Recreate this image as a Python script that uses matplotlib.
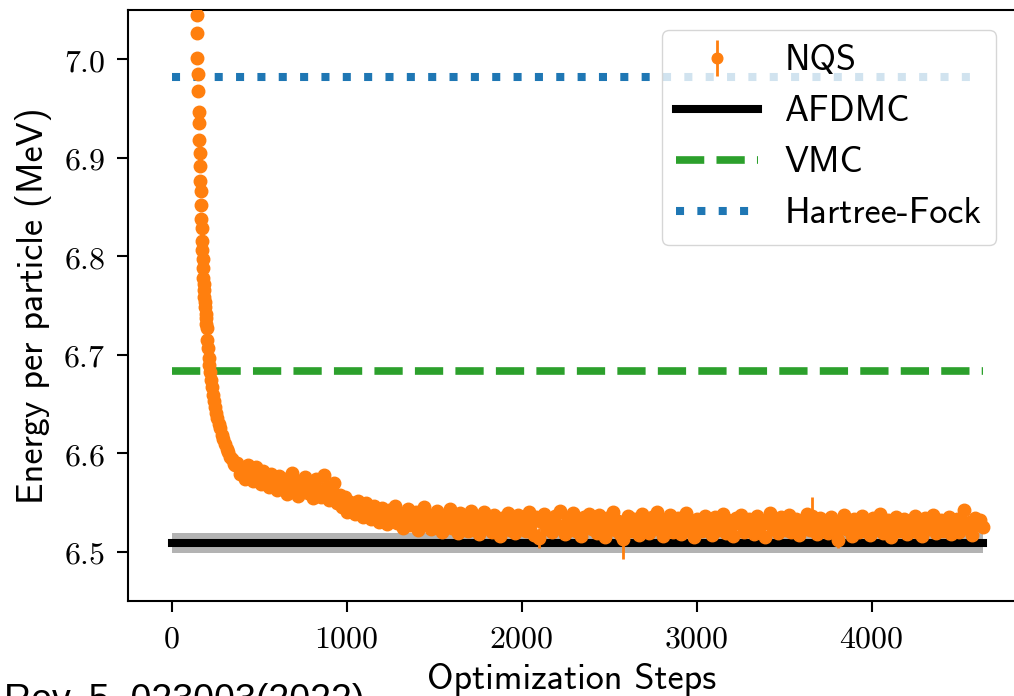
import numpy as np
import matplotlib
matplotlib.use("Agg")
import matplotlib.pyplot as plt
from matplotlib.ticker import FuncFormatter

# reference energies (MeV per particle)
afdmc_energy = 6.509
afdmc_err = 0.010
vmc_energy = 6.684
hf_energy = 6.982

# NQS optimisation, early (steep) part
steps_early = [0, 25, 50, 75, 100, 120, 130, 135,
               140, 142, 144, 146, 148, 150, 152, 154, 156, 158, 160, 162, 164,
               166, 168, 170, 172, 174, 176, 178, 180, 182, 184, 186, 188, 190,
               192, 194, 196, 198, 200, 204, 208, 212, 216, 220, 225, 230, 236,
               242, 248, 255, 262, 270, 278, 286, 295, 304, 314, 324, 334, 344,
               354, 364]
energy_early = [12.0, 10.5, 9.3, 8.5, 7.9, 7.45, 7.28, 7.17,
                7.090, 7.066, 7.045, 7.027, 7.001, 6.985, 6.968, 6.946, 6.935,
                6.918, 6.905, 6.892, 6.876, 6.866, 6.852, 6.838, 6.829, 6.816,
                6.806, 6.797, 6.788, 6.778, 6.772, 6.766, 6.759, 6.754, 6.748,
                6.741, 6.737, 6.731, 6.727, 6.715, 6.707, 6.697, 6.690, 6.683,
                6.674, 6.667, 6.659, 6.653, 6.647, 6.641, 6.636, 6.630, 6.626,
                6.619, 6.614, 6.609, 6.604, 6.601, 6.596, 6.594, 6.589, 6.588]

# NQS optimisation, every 15 steps from 375 on
steps_late = np.arange(375, 4636, 15)
energy_late = [
    6.590, 6.579, 6.584, 6.574, 6.588, 6.581, 6.572, 6.586, 6.577, 6.569, 6.582, 6.575, 6.566, 6.579, 6.571,
    6.563, 6.577, 6.568, 6.574, 6.559, 6.571, 6.580, 6.565, 6.557, 6.572, 6.566, 6.576, 6.560, 6.569, 6.555,
    6.574, 6.562, 6.556, 6.578, 6.566, 6.553, 6.561, 6.570, 6.549, 6.558, 6.545, 6.556, 6.540, 6.551, 6.547,
    6.538, 6.552, 6.543, 6.535, 6.549, 6.541, 6.533, 6.546, 6.538, 6.530, 6.544, 6.536, 6.528, 6.542, 6.535,
    6.546, 6.529, 6.538, 6.524, 6.535, 6.543, 6.527, 6.533, 6.540, 6.522, 6.531, 6.545, 6.528, 6.537, 6.523,
    6.534, 6.541, 6.526, 6.520, 6.537, 6.530, 6.543, 6.524, 6.533, 6.519, 6.539, 6.528, 6.535, 6.521, 6.541,
    6.527, 6.536, 6.518, 6.531, 6.540, 6.524, 6.533, 6.520, 6.537, 6.529, 6.516, 6.534, 6.526, 6.539, 6.522,
    6.531, 6.519, 6.537, 6.525, 6.533, 6.521, 6.540, 6.528, 6.517, 6.535, 6.514, 6.530, 6.538, 6.523, 6.532,
    6.520, 6.536, 6.527, 6.541, 6.524, 6.518, 6.533, 6.529, 6.539, 6.521, 6.530, 6.516, 6.535, 6.526, 6.538,
    6.523, 6.532, 6.519, 6.537, 6.528, 6.515, 6.534, 6.525, 6.540, 6.522, 6.531, 6.518, 6.513, 6.529, 6.536,
    6.521, 6.533, 6.526, 6.517, 6.538, 6.524, 6.531, 6.519, 6.535, 6.528, 6.540, 6.522, 6.516, 6.532, 6.527,
    6.537, 6.520, 6.529, 6.534, 6.518, 6.526, 6.539, 6.523, 6.531, 6.515, 6.533, 6.527, 6.521, 6.536, 6.524,
    6.530, 6.517, 6.535, 6.522, 6.528, 6.538, 6.519, 6.532, 6.525, 6.516, 6.534, 6.529, 6.537, 6.520, 6.527,
    6.533, 6.521, 6.518, 6.536, 6.526, 6.531, 6.515, 6.529, 6.539, 6.523, 6.530, 6.519, 6.535, 6.527, 6.522,
    6.537, 6.520, 6.528, 6.533, 6.517, 6.531, 6.524, 6.538, 6.522, 6.536, 6.529, 6.518, 6.534, 6.525, 6.531,
    6.519, 6.535, 6.526, 6.521, 6.512, 6.530, 6.537, 6.523, 6.528, 6.516, 6.533, 6.527, 6.520, 6.536, 6.524,
    6.530, 6.517, 6.534, 6.522, 6.529, 6.538, 6.519, 6.526, 6.532, 6.515, 6.528, 6.535, 6.521, 6.527, 6.533,
    6.518, 6.531, 6.525, 6.536, 6.520, 6.529, 6.516, 6.534, 6.523, 6.530, 6.537, 6.519, 6.527, 6.532, 6.521,
    6.528, 6.535, 6.518, 6.526, 6.533, 6.520, 6.531, 6.542, 6.524, 6.530, 6.517, 6.534, 6.527, 6.532, 6.525]

# statistical errors of the NQS estimate; a few noisy steps have larger bars
base_err = 0.005
large_err = {2100: 0.010, 2580: 0.020, 3660: 0.020, 3810: 0.008}

steps = np.concatenate([steps_early, steps_late])
energy = np.concatenate([energy_early, energy_late])
err = np.array([large_err.get(int(s), base_err) for s in steps])

plt.rcParams['mathtext.fontset'] = 'cm'
label_font = dict(family='cmss10', size=26)

fig = plt.figure(figsize=(10.14, 6.96), dpi=100)
ax = fig.add_axes([0.1259, 0.1365, 0.8761, 0.8491])

x_ref = [steps[0], steps[-1]]
ax.fill_between(x_ref, afdmc_energy - afdmc_err, afdmc_energy + afdmc_err,
                color='#b3b3b3', lw=0, zorder=1)
ax.plot(x_ref, [afdmc_energy] * 2, color='black', lw=5.8, label='AFDMC', zorder=2)
ax.errorbar(steps, energy, yerr=err, fmt='o', color='#ff7f0e', ms=9,
            elinewidth=2, label='NQS', zorder=3)
ax.plot(x_ref, [vmc_energy] * 2, color='#2ca02c', lw=5.5, ls='--', label='VMC', zorder=2)
ax.plot(x_ref, [hf_energy] * 2, color='#1f77b4', lw=5.8, ls=':', label='Hartree-Fock', zorder=2)

ax.set_xlim(-251, 4825)
ax.set_ylim(6.45, 7.05)
ax.set_xticks([0, 1000, 2000, 3000, 4000])
ax.set_yticks([6.5, 6.6, 6.7, 6.8, 6.9, 7.0])
ax.xaxis.set_major_formatter(FuncFormatter(lambda v, p: r'$%d$' % v))
ax.yaxis.set_major_formatter(FuncFormatter(lambda v, p: r'$%.1f$' % v))
ax.tick_params(labelsize=23, length=8, width=1.5, pad=8)
for sp in ax.spines.values():
    sp.set_linewidth(1.5)

ax.set_xlabel('Optimization Steps', labelpad=6, **label_font)
ax.set_ylabel('Energy per particle (MeV)', labelpad=8, **label_font)

handles, labels = ax.get_legend_handles_labels()
order = [labels.index(n) for n in ['NQS', 'AFDMC', 'VMC', 'Hartree-Fock']]
leg = ax.legend([handles[i] for i in order], [labels[i] for i in order],
                loc='upper right', prop={'family': 'cmss10', 'size': 26},
                handlelength=2.25, handletextpad=0.75, framealpha=0.8,
                borderaxespad=0.55, markerscale=0.85)
leg.set_zorder(5)

fig.text(0.004, 1 - 683 / 696, 'Rev. 5, 023003(2022)', va='top', ha='left',
         family='Liberation Sans', size=27)

fig.savefig('out.png', dpi=100)
